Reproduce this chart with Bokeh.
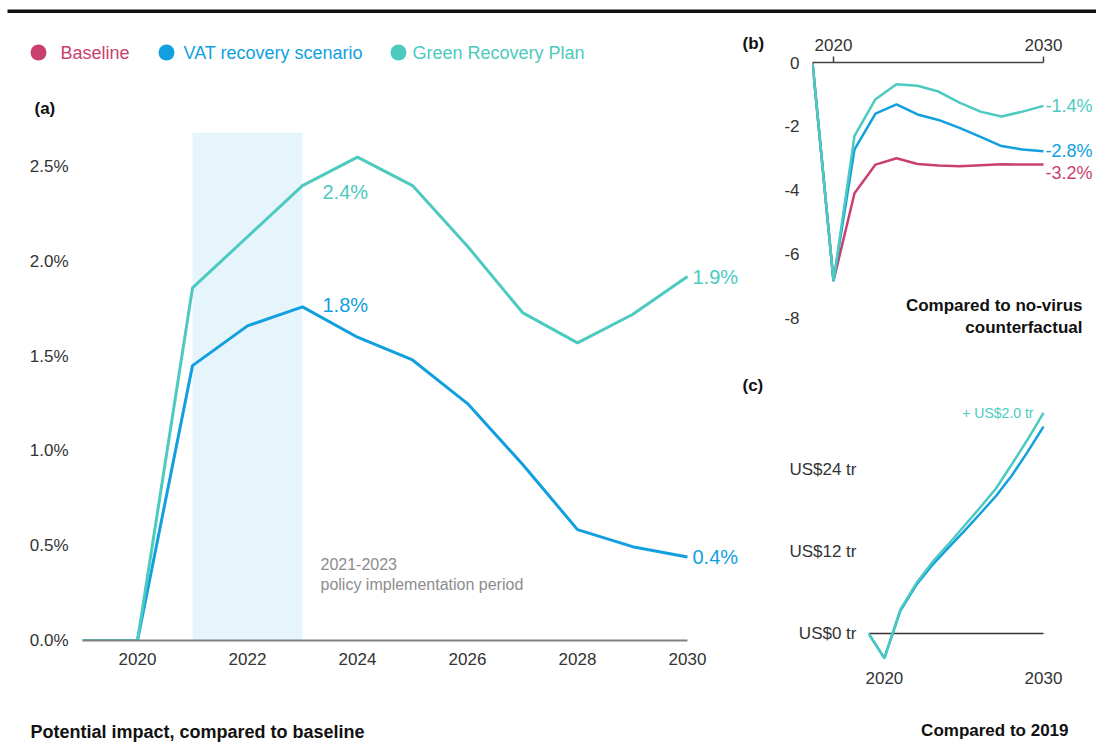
from bokeh.plotting import figure
from bokeh.layouts import column, row
from bokeh.models import (Range1d, FixedTicker, PrintfTickFormatter, BoxAnnotation, Label)
from bokeh.embed import file_html
from bokeh.resources import INLINE

# ---------------- data ----------------
years = [2019, 2020, 2021, 2022, 2023, 2024, 2025, 2026, 2027, 2028, 2029, 2030]

# (a) potential impact compared to baseline (%)
vat_a = [0, 0, 1.45, 1.66, 1.76, 1.60, 1.48, 1.25, 0.93, 0.585, 0.495, 0.44]
green_a = [0, 0, 1.86, 2.13, 2.40, 2.55, 2.40, 2.08, 1.73, 1.57, 1.72, 1.92]

# (b) compared to no-virus counterfactual (%)
base_b = [0, -6.85, -4.1, -3.2, -3.0, -3.18, -3.23, -3.25, -3.22, -3.19, -3.2, -3.2]
vat_b = [0, -6.85, -2.72, -1.6, -1.31, -1.63, -1.8, -2.05, -2.33, -2.62, -2.73, -2.78]
green_b = [0, -6.85, -2.3, -1.15, -0.68, -0.73, -0.91, -1.26, -1.54, -1.69, -1.54, -1.36]

# (c) compared to 2019 (US$ tr)
vat_c = [0, -3.6, 3.33, 7.1, 10.0, 12.5, 14.95, 17.5, 20.1, 23.1, 26.6, 30.3]
green_c = [0, -3.6, 3.5, 7.35, 10.4, 13.0, 15.7, 18.4, 21.2, 24.75, 28.4, 32.3]

policy_period = [2021, 2023]
series_names = ["Baseline", "VAT recovery scenario", "Green Recovery Plan"]
xticks_a = [2020, 2022, 2024, 2026, 2028, 2030]
yticks_a = [0, 0.5, 1.0, 1.5, 2.0, 2.5]
xticks_bc = [2020, 2030]
yticks_b = [0, -2, -4, -6, -8]
yticks_c = [0, 12, 24]

# ---------------- style ----------------
PINK = "#c9406f"
BLUE = "#119fdf"
GREEN = "#4ccac0"
TXT = "#333333"
DARK = "#111111"
FONT = "Liberation Sans"
FS = "17px"
W = 1096


def make_fig(width, height, xr, yr, ml=0, mr=0, mt=0, mb=0, axes=True, **kw):
    extra = {} if axes else dict(x_axis_type=None, y_axis_type=None)
    p = figure(width=width, height=height, x_range=xr, y_range=yr,
               toolbar_location=None, output_backend="svg",
               min_border_left=ml, min_border_right=mr,
               min_border_top=mt, min_border_bottom=mb, **extra, **kw)
    p.frame_align = False
    p.outline_line_color = None
    p.grid.visible = False
    p.background_fill_color = "white"
    p.border_fill_color = "white"
    return p


def style_axis(ax, ticks, standoff, fmt=None):
    ax.ticker = FixedTicker(ticks=ticks)
    ax.major_label_text_font = FONT
    ax.major_label_text_font_size = FS
    ax.major_label_text_color = TXT
    ax.major_label_standoff = standoff
    ax.minor_tick_line_color = None
    ax.major_tick_line_color = None
    ax.axis_line_color = None
    if fmt is not None:
        ax.formatter = fmt


def add_label(p, text, x, y, color=TXT, size=FS, bold=False, align="left",
              baseline="middle", units="data", x_offset=0, y_offset=0):
    p.add_layout(Label(x=x, y=y, x_units=units, y_units=units, text=text,
                       text_color=color, text_font=FONT, text_font_size=size,
                       text_font_style="bold" if bold else "normal",
                       text_align=align, text_baseline=baseline,
                       x_offset=x_offset, y_offset=y_offset))


# ---------------- top rule (page px coordinates) ----------------
head = make_fig(W, 30, Range1d(0, W), Range1d(30, 0), axes=False)
head.add_layout(BoxAnnotation(left=7, right=W, top=9, bottom=12.5,
                              fill_color=DARK, fill_alpha=1.0, line_color=None))

# ---------------- header of panel (a): legend, (a), (b) ----------------
ha = make_fig(765, 102, Range1d(0, 765), Range1d(132, 30), axes=False)
dot_x = [38, 166, 398]
txt_x = [60, 183, 412]
cols = [PINK, BLUE, GREEN]
ha.scatter(dot_x, [52] * 3, marker="circle", size=16, color=cols, line_color=None)
for tx, name, col in zip(txt_x, series_names, cols):
    add_label(ha, name, tx, 52, color=col, size="18px")
add_label(ha, "(a)", 34, 108, bold=True, color=DARK)
add_label(ha, "(b)", 742, 43, bold=True, color=DARK)

# ---------------- panel (a) ----------------
# frame: x 82..765 (2019 at 82, 55 px/yr), y 132..640 (0 at 640, 189.6 px per 1%)
pa = make_fig(765, 568, Range1d(2019, 2019 + 683 / 55), Range1d(0, 2.68),
              ml=82, mr=0, mt=0, mb=60)
style_axis(pa.xaxis[0], xticks_a, 6)
pa.xaxis[0].axis_line_color = "#808080"
pa.xaxis[0].axis_line_width = 2
pa.xaxis[0].bounds = (years[0], years[-1])
style_axis(pa.yaxis[0], yticks_a, 8, PrintfTickFormatter(format="%.1f%%"))

pa.add_layout(BoxAnnotation(left=policy_period[0], right=policy_period[1],
                            fill_color="#e6f5fc", fill_alpha=1.0,
                            line_color=None, level="underlay"))
pa.line(years, vat_a, line_color=BLUE, line_width=3)
pa.line(years, green_a, line_color=GREEN, line_width=3)

add_label(pa, "%.1f%%" % green_a[4], years[4], green_a[4], color=GREEN, size="20px",
          x_offset=20, y_offset=-6)
add_label(pa, "%.1f%%" % vat_a[4], years[4], vat_a[4], color=BLUE, size="20px",
          x_offset=20, y_offset=2)
add_label(pa, "%.1f%%" % green_a[-1], years[-1], green_a[-1], color=GREEN, size="20px",
          x_offset=5)
add_label(pa, "%.1f%%" % vat_a[-1], years[-1], vat_a[-1], color=BLUE, size="20px",
          x_offset=5)
add_label(pa, "%d-%d" % (policy_period[0], policy_period[1]), 238, 77,
          color="#8c8c8c", size="16px", units="screen")
add_label(pa, "policy implementation period", 238, 56, color="#8c8c8c",
          size="16px", units="screen")
add_label(pa, "(c)", 660, 255, bold=True, color=DARK, units="screen")

# ---------------- panel (b) ----------------
# frame: x 812..1096 (2019 at 812, 21 px/yr), y 62..345 (0 at top, 31.9 px per unit)
pb = make_fig(W - 765, 330, Range1d(2019, 2019 + 284 / 21), Range1d(-283 / 31.9, 0),
              ml=47, mr=0, mt=32, mb=15, x_axis_location="above")
style_axis(pb.xaxis[0], xticks_bc, 6)
pb.xaxis[0].axis_line_color = "#444444"
pb.xaxis[0].axis_line_width = 1.5
pb.xaxis[0].major_tick_line_color = "#444444"
pb.xaxis[0].major_tick_line_width = 1.5
pb.xaxis[0].major_tick_out = 6
pb.xaxis[0].major_tick_in = 0
pb.xaxis[0].bounds = (years[0], years[-1])
style_axis(pb.yaxis[0], yticks_b, 7, PrintfTickFormatter(format="%d"))

pb.line(years, base_b, line_color=PINK, line_width=2.5)
pb.line(years, vat_b, line_color=BLUE, line_width=2.5)
pb.line(years, green_b, line_color=GREEN, line_width=2.5)

add_label(pb, "%.1f%%" % green_b[-1], years[-1], green_b[-1], color=GREEN, size="18px",
          x_offset=2)
add_label(pb, "%.1f%%" % vat_b[-1], years[-1], vat_b[-1], color=BLUE, size="18px",
          x_offset=2)
add_label(pb, "%.1f%%" % base_b[-1], years[-1], base_b[-1], color=PINK, size="18px",
          x_offset=2, y_offset=-8)
add_label(pb, "Compared to no-virus", 270, 40, bold=True, color=DARK,
          align="right", units="screen")
add_label(pb, "counterfactual", 270, 18, bold=True, color=DARK,
          align="right", units="screen")

# ---------------- panel (c) ----------------
# frame: x 868..1096 (2019 at 868, 15.91 px/yr), y 395..665 (0 at 633, 6.83 px per tr)
pc = make_fig(W - 765, 340, Range1d(2019, 2019 + 228 / 15.91), Range1d(-4.69, 34.85),
              ml=103, mr=0, mt=35, mb=35)
style_axis(pc.xaxis[0], xticks_bc, 0)
style_axis(pc.yaxis[0], yticks_c, 6, PrintfTickFormatter(format="US$%d tr"))
pc.line([years[0], years[-1]], [0, 0], line_color="#333333", line_width=1.5)
pc.line(years, vat_c, line_color=BLUE, line_width=2.5)
pc.line(years, green_c, line_color=GREEN, line_width=2.5)
add_label(pc, "+ US$%.1f tr" % (green_c[-1] - vat_c[-1]), years[-1], green_c[-1],
          color=GREEN, size="14px", align="right", x_offset=-10)

# ---------------- footer ----------------
foot = make_fig(W, 50, Range1d(0, W), Range1d(750, 700), axes=False)
add_label(foot, "Potential impact, compared to baseline", 30, 731, bold=True,
          color=DARK, size="18px")
add_label(foot, "Compared to 2019", 1068, 730, bold=True, color=DARK, align="right")

layout = column(
    head,
    row(column(ha, pa, spacing=0), column(pb, pc, spacing=0), spacing=0),
    foot,
    spacing=0,
)
open("out.html", "w").write(file_html(layout, INLINE))
